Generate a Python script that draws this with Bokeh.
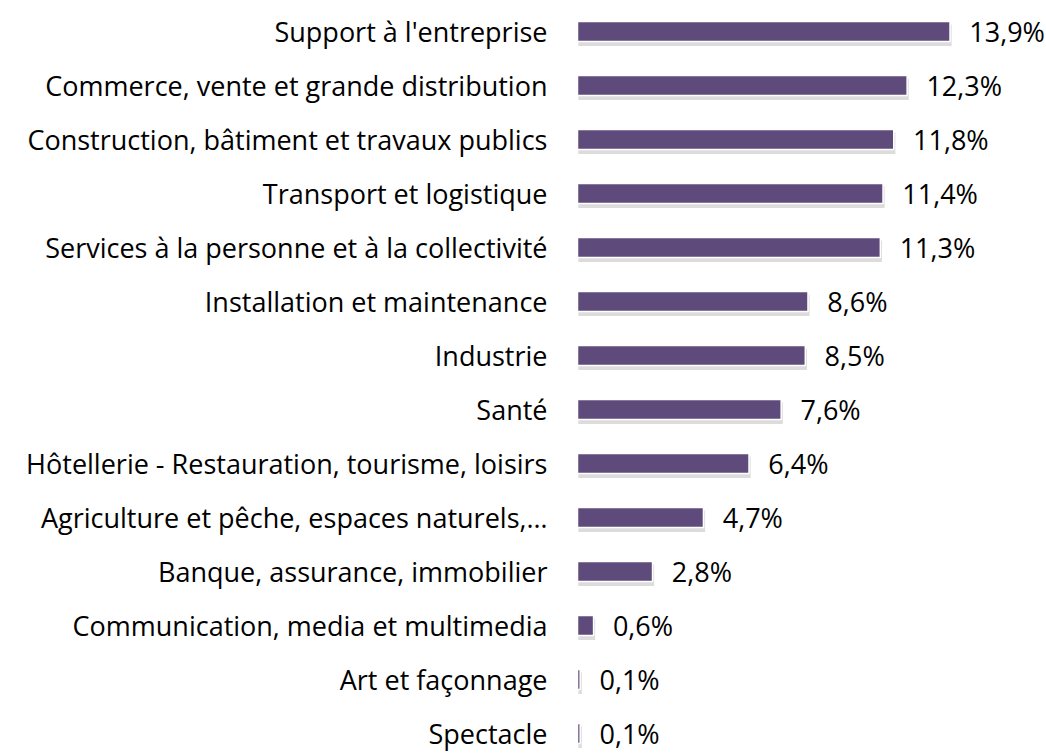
from bokeh.plotting import figure
from bokeh.models import Range1d, ColumnDataSource
from bokeh.core.properties import value
from bokeh.embed import file_html
from bokeh.resources import INLINE

categories = [
    "Support à l'entreprise",
    "Commerce, vente et grande distribution",
    "Construction, bâtiment et travaux publics",
    "Transport et logistique",
    "Services à la personne et à la collectivité",
    "Installation et maintenance",
    "Industrie",
    "Santé",
    "Hôtellerie - Restauration, tourisme, loisirs",
    "Agriculture et pêche, espaces naturels,…",
    "Banque, assurance, immobilier",
    "Communication, media et multimedia",
    "Art et façonnage",
    "Spectacle",
]
values = [13.9, 12.3, 11.8, 11.4, 11.3, 8.6, 8.5, 7.6, 6.4, 4.7, 2.8, 0.6, 0.1, 0.1]
value_labels = ["13,9%", "12,3%", "11,8%", "11,4%", "11,3%", "8,6%", "8,5%",
                "7,6%", "6,4%", "4,7%", "2,8%", "0,6%", "0,1%", "0,1%"]

idx = list(range(len(categories)))
src = ColumnDataSource(dict(
    y=idx,
    ys=[i + 0.07 for i in idx],
    v=values,
    vs=[v + 0.06 for v in values],
    cat=categories,
    lab=value_labels,
    lx=[v + 0.72 for v in values],
))

W, H = 1046, 754
p = figure(width=W, height=H, output_backend="svg", toolbar_location=None,
           x_range=Range1d(-21.53, 17.5), y_range=Range1d(13.39, -0.574),
           min_border=0, outline_line_color=None)
p.axis.visible = False
p.grid.visible = False

# shadow
p.hbar(y="ys", left=0.03, right="vs", height=0.40, source=src,
       fill_color="#9a9a9a", fill_alpha=0.35, line_color=None)
p.hbar(y="y", left=0, right="v", height=0.37, source=src,
       fill_color="#5f4b7b", line_color="white", line_width=1.5)

font = value("Open Sans")
p.text(x=-1.12, y="y", text="cat", source=src, text_align="right",
       text_baseline="middle", text_font=font, text_font_size="27px",
       text_color="#000000")
p.text(x="lx", y="y", text="lab", source=src, text_align="left",
       text_baseline="middle", text_font=font, text_font_size="27px",
       text_color="#000000")

open("out.html", "w").write(file_html(p, INLINE))
